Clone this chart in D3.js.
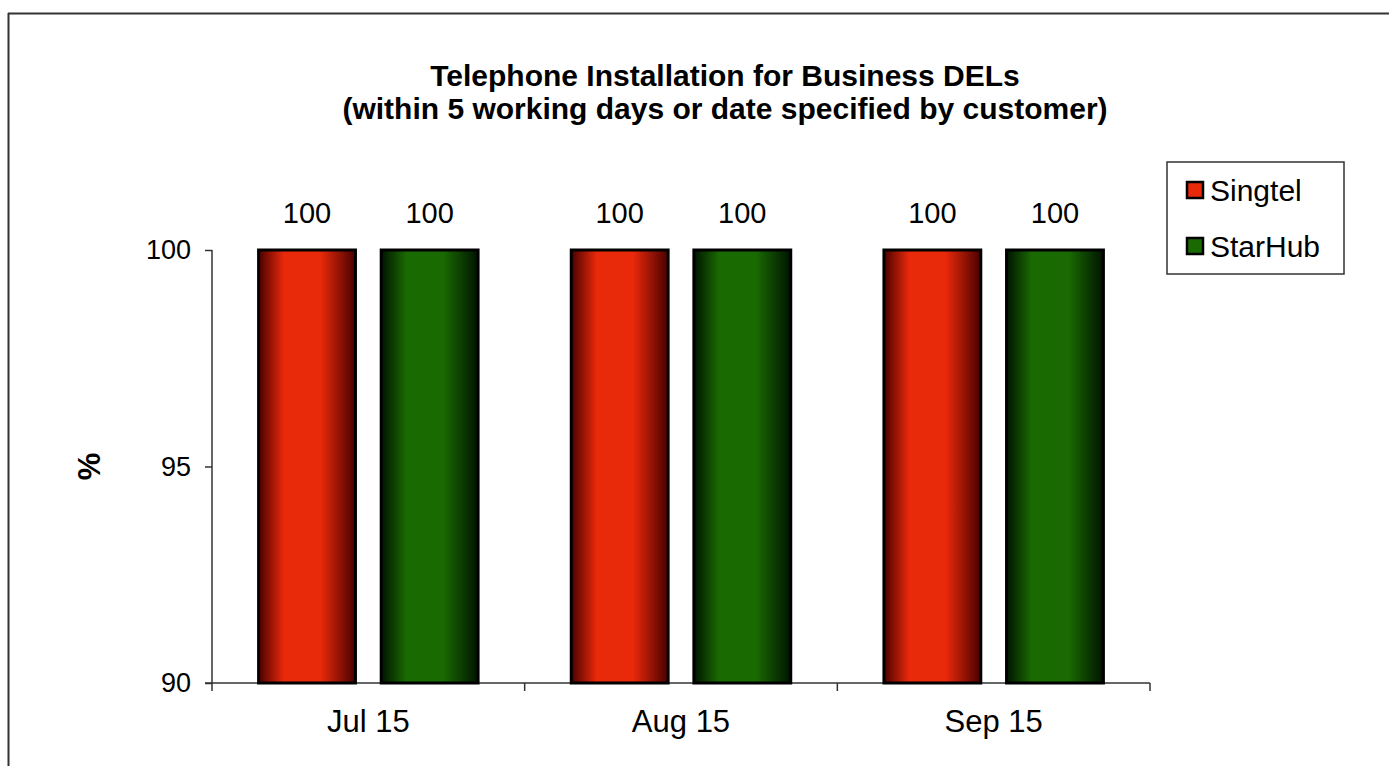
<!DOCTYPE html>
<html>
<head>
<meta charset="utf-8">
<script src="https://cdn.jsdelivr.net/npm/d3@7"></script>
<style>
  body { margin: 0; background: #fff; }
  svg { display: block; font-family: "Liberation Sans", Arial, sans-serif; }
</style>
</head>
<body>
<svg id="chart"></svg>
<script>
// Data
const months = ['Jul 15', 'Aug 15', 'Sep 15'];
const series = ['Singtel', 'StarHub'];
const singtel = [100, 100, 100];
const starhub = [100, 100, 100];
const yTicks = [90, 95, 100];
const titleLines = ['Telephone Installation for Business DELs',
                    '(within 5 working days or date specified by customer)'];

const W = 1389, H = 766;
const margin = {top: 250, right: 239, bottom: 83, left: 212};
const width = W - margin.left - margin.right;
const height = H - margin.top - margin.bottom;

const svg = d3.select('#chart').attr('width', W).attr('height', H);

// gradients (dark edges, bright middle)
const defs = svg.append('defs');
const grads = [
  {id: 'g-red', edge: '#4a0000', mid: '#e8290a'},
  {id: 'g-green', edge: '#001400', mid: '#1a6a02'}
];
grads.forEach(g => {
  const lg = defs.append('linearGradient').attr('id', g.id)
      .attr('x1', '0%').attr('x2', '100%').attr('y1', '0%').attr('y2', '0%');
  lg.append('stop').attr('offset', '0%').attr('stop-color', g.edge);
  lg.append('stop').attr('offset', '26%').attr('stop-color', g.mid);
  lg.append('stop').attr('offset', '64%').attr('stop-color', g.mid);
  lg.append('stop').attr('offset', '100%').attr('stop-color', g.edge);
});
const fills = {Singtel: 'url(#g-red)', StarHub: 'url(#g-green)'};
const swatch = {Singtel: '#e8290a', StarHub: '#1a6a02'};

// outer frame
svg.append('line').attr('x1', 8).attr('x2', W).attr('y1', 13.5).attr('y2', 13.5)
    .attr('stroke', '#333').attr('stroke-width', 2);
svg.append('line').attr('x1', 8.5).attr('x2', 8.5).attr('y1', 13).attr('y2', H)
    .attr('stroke', '#333').attr('stroke-width', 2);

const chart = svg.append('g')
    .attr('transform', `translate(${margin.left},${margin.top})`);

const x0 = d3.scaleBand().domain(months).range([0, width]).padding(0);
const x1 = d3.scaleBand().domain(series).range([0, x0.bandwidth()])
    .paddingInner(0.21).paddingOuter(0.38);
const y = d3.scaleLinear().domain([90, 100]).range([height, 0]);

// axes
const yAxis = d3.axisLeft(y).tickValues(yTicks).tickSize(7).tickPadding(14);
const yg = chart.append('g').call(yAxis);
yg.select('.domain').attr('stroke', '#333').attr('stroke-width', 1.5).attr('d', `M0,0V${height}`);
yg.selectAll('.tick line').attr('stroke', '#333').attr('stroke-width', 1.5);
yg.selectAll('.tick text').attr('font-size', 27).attr('fill', '#000')
    .attr('font-family', '"Liberation Sans", Arial, sans-serif');

const xg = chart.append('g').attr('transform', `translate(0,${height})`);
xg.append('line').attr('x1', -7).attr('x2', width).attr('y1', 0).attr('y2', 0)
    .attr('stroke', '#333').attr('stroke-width', 1.5);
const bounds = months.map(m => x0(m)).concat([width]);
xg.selectAll('.cat-tick').data(bounds).join('line')
    .attr('class', 'cat-tick')
    .attr('x1', d => d).attr('x2', d => d).attr('y1', 0).attr('y2', 8)
    .attr('stroke', '#333').attr('stroke-width', 1.5);
xg.selectAll('.cat-label').data(months).join('text')
    .attr('class', 'cat-label')
    .attr('x', d => x0(d) + x0.bandwidth() / 2)
    .attr('y', 49)
    .attr('text-anchor', 'middle')
    .attr('font-size', 31)
    .text(d => d);

// bars
const rows = months.map((m, i) => ({month: m, values: [
  {key: 'Singtel', value: singtel[i]},
  {key: 'StarHub', value: starhub[i]}
]}));

const groups = chart.selectAll('.grp').data(rows).join('g')
    .attr('class', 'grp')
    .attr('transform', d => `translate(${x0(d.month)},0)`);

groups.selectAll('rect').data(d => d.values).join('rect')
    .attr('x', d => x1(d.key))
    .attr('y', d => y(d.value))
    .attr('width', x1.bandwidth())
    .attr('height', d => height - y(d.value))
    .attr('fill', d => fills[d.key])
    .attr('stroke', '#000')
    .attr('stroke-width', 3);

groups.selectAll('.val').data(d => d.values).join('text')
    .attr('class', 'val')
    .attr('x', d => x1(d.key) + x1.bandwidth() / 2)
    .attr('y', d => y(d.value) - 27)
    .attr('text-anchor', 'middle')
    .attr('font-size', 29)
    .text(d => d.value);

// y axis title
svg.append('text')
    .attr('transform', `translate(100,${margin.top + y(95)}) rotate(-90)`)
    .attr('text-anchor', 'middle')
    .attr('font-size', 31)
    .attr('font-weight', 'bold')
    .text('%');

// title
svg.append('text')
    .attr('x', 725).attr('y', 86)
    .attr('text-anchor', 'middle')
    .attr('font-size', 30).attr('font-weight', 'bold')
    .selectAll('tspan').data(titleLines).join('tspan')
    .attr('x', 725)
    .attr('dy', (d, i) => i === 0 ? 0 : 33)
    .text(d => d);

// legend
const legend = svg.append('g').attr('transform', 'translate(1167,162)');
legend.append('rect').attr('width', 177).attr('height', 112)
    .attr('fill', '#fff').attr('stroke', '#333').attr('stroke-width', 1.5);
const li = legend.selectAll('.li').data(series).join('g')
    .attr('class', 'li')
    .attr('transform', (d, i) => `translate(20,${20 + i * 56})`);
li.append('rect').attr('width', 16).attr('height', 16)
    .attr('fill', d => swatch[d]).attr('stroke', '#000').attr('stroke-width', 2.5);
li.append('text').attr('x', 23).attr('y', 19)
    .attr('font-size', 30)
    .text(d => d);
</script>
</body>
</html>
